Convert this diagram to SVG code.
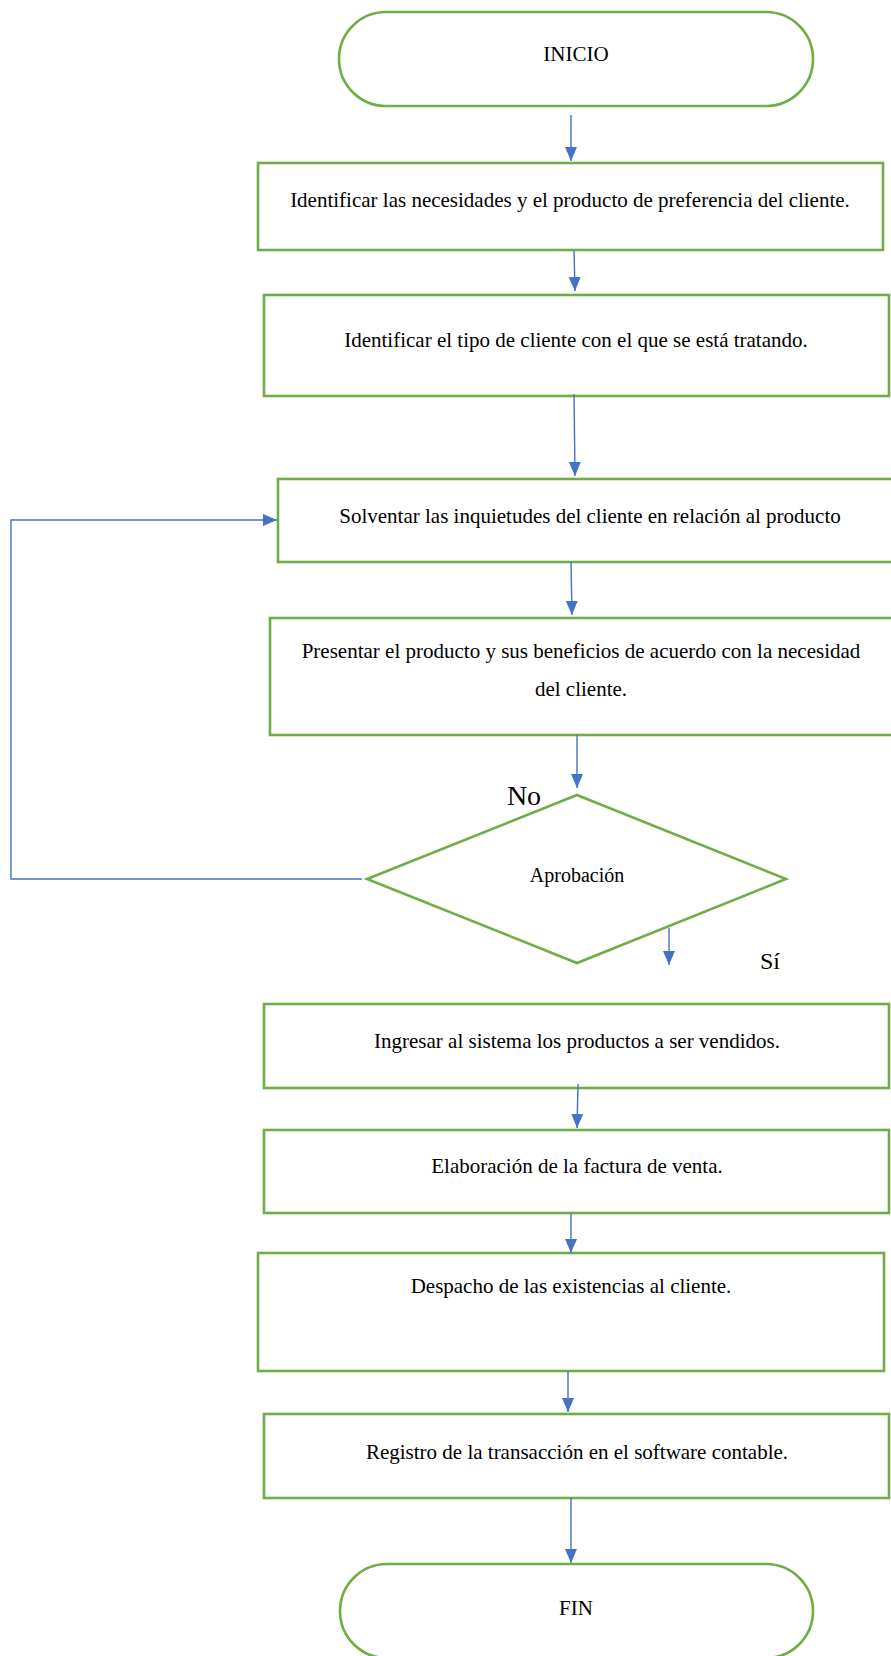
<svg xmlns="http://www.w3.org/2000/svg" width="891" height="1656" viewBox="0 0 891 1656">
  <style>
    .shape { fill: #ffffff; stroke: #70AD47; stroke-width: 2.6; }
    .link { fill: none; stroke: #4472C4; stroke-width: 1.4; }
    .lbl { font-family: "Liberation Serif", "Times New Roman", serif; font-size: 21px; fill: #000000; text-anchor: middle; }
  </style>
  <defs>
    <marker id="head" markerUnits="userSpaceOnUse" markerWidth="15" markerHeight="13" refX="14" refY="6" orient="auto">
      <path d="M0,0 L14,6 L0,12 z" fill="#4472C4"/>
    </marker>
  </defs>
  <rect width="891" height="1656" fill="#ffffff"/>

  <g id="inicio">
    <rect class="shape" x="339" y="12" width="474" height="94" rx="47" ry="47"/>
    <text class="lbl" x="576" y="61">INICIO</text>
  </g>

  <g id="paso1">
    <rect class="shape" x="258" y="163" width="625" height="87"/>
    <text class="lbl" x="570" y="207">Identificar las necesidades y el producto de preferencia del cliente.</text>
  </g>

  <g id="paso2">
    <rect class="shape" x="264" y="295" width="625" height="101"/>
    <text class="lbl" x="576" y="347">Identificar el tipo de cliente con el que se está tratando.</text>
  </g>

  <g id="paso3">
    <rect class="shape" x="278" y="479" width="624" height="83"/>
    <text class="lbl" x="590" y="523">Solventar las inquietudes del cliente en relación al producto</text>
  </g>

  <g id="paso4">
    <rect class="shape" x="270" y="618" width="624" height="117"/>
    <text class="lbl" x="581" y="658">Presentar el producto y sus beneficios de acuerdo con la necesidad</text>
    <text class="lbl" x="581" y="696">del cliente.</text>
  </g>

  <g id="aprobacion">
    <polygon class="shape" points="577,795 786,879 577,963 367,879"/>
    <text class="lbl" x="577" y="882" style="font-size:20px">Aprobación</text>
  </g>

  <g id="paso5">
    <rect class="shape" x="264" y="1004" width="625" height="84"/>
    <text class="lbl" x="577" y="1048">Ingresar al sistema los productos a ser vendidos.</text>
  </g>

  <g id="paso6">
    <rect class="shape" x="264" y="1130" width="625" height="83"/>
    <text class="lbl" x="577" y="1173">Elaboración de la factura de venta.</text>
  </g>

  <g id="paso7">
    <rect class="shape" x="258" y="1253" width="626" height="118"/>
    <text class="lbl" x="571" y="1293">Despacho de las existencias al cliente.</text>
  </g>

  <g id="paso8">
    <rect class="shape" x="264" y="1414" width="625" height="84"/>
    <text class="lbl" x="577" y="1459">Registro de la transacción en el software contable.</text>
  </g>

  <g id="fin">
    <rect class="shape" x="340" y="1564" width="473" height="94" rx="47" ry="47"/>
    <text class="lbl" x="576" y="1615">FIN</text>
  </g>

  <g id="connectors">
    <line class="link" x1="571" y1="115" x2="571" y2="161" marker-end="url(#head)"/>
    <line class="link" x1="574" y1="250" x2="575" y2="291" marker-end="url(#head)"/>
    <line class="link" x1="574" y1="394" x2="575" y2="476" marker-end="url(#head)"/>
    <line class="link" x1="571" y1="562" x2="572" y2="615" marker-end="url(#head)"/>
    <line class="link" x1="577" y1="735" x2="577" y2="788" marker-end="url(#head)"/>
    <path class="link" d="M362,879 L11,879 L11,520 L277,520" marker-end="url(#head)"/>
    <line class="link" x1="669" y1="928" x2="669" y2="965" marker-end="url(#head)"/>
    <line class="link" x1="578" y1="1084" x2="577" y2="1128" marker-end="url(#head)"/>
    <line class="link" x1="571" y1="1213" x2="571" y2="1253" marker-end="url(#head)"/>
    <line class="link" x1="568" y1="1371" x2="568" y2="1412" marker-end="url(#head)"/>
    <line class="link" x1="571" y1="1498" x2="571" y2="1563" marker-end="url(#head)"/>
  </g>

  <g id="etiquetas">
    <text class="lbl" x="524" y="805" style="font-size:28px">No</text>
    <text class="lbl" x="770" y="969" style="font-size:24px">Sí</text>
  </g>
</svg>
